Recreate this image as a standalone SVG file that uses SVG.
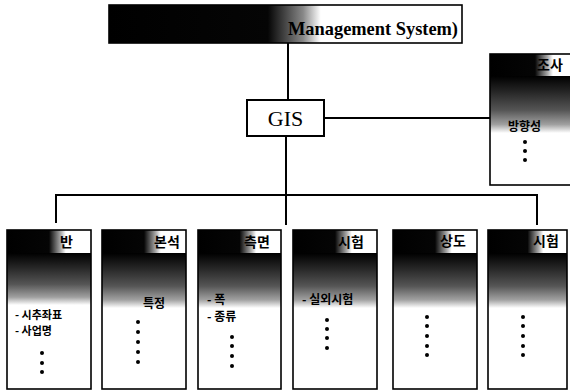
<svg xmlns="http://www.w3.org/2000/svg" width="570" height="392" viewBox="0 0 570 392">
<defs>
<linearGradient id="hdr" x1="0" y1="0" x2="1" y2="0">
<stop offset="0" stop-color="#000"/><stop offset="0.5" stop-color="#050505"/><stop offset="0.64" stop-color="#aaa"/><stop offset="0.7" stop-color="#fff"/><stop offset="1" stop-color="#fff"/>
</linearGradient>
<linearGradient id="topg" x1="0" y1="0" x2="1" y2="0">
<stop offset="0" stop-color="#000"/><stop offset="0.45" stop-color="#050505"/><stop offset="0.55" stop-color="#888"/><stop offset="0.6" stop-color="#fff"/><stop offset="1" stop-color="#fff"/>
</linearGradient>
<linearGradient id="body" x1="0" y1="0" x2="0" y2="1">
<stop offset="0" stop-color="#000"/><stop offset="0.25" stop-color="#222"/><stop offset="0.6" stop-color="#555"/><stop offset="0.85" stop-color="#a0a0a0"/><stop offset="1" stop-color="#fff"/>
</linearGradient>
</defs>
<style>
.box{fill:none;stroke:#000;stroke-width:1.6}
.ln{stroke:#000;stroke-width:2;fill:none}
.kr{font-family:"Noto Sans CJK KR","Noto Sans",sans-serif;font-weight:700;font-size:12px;fill:#000}
.sm{font-size:11px}
.hd{font-family:"Noto Sans CJK KR","Noto Sans",sans-serif;font-weight:700;font-size:14px;fill:#000}
.dot{fill:#000}
</style>
<g id="connectors">
<line class="ln" x1="288" y1="43" x2="288" y2="100"/>
<line class="ln" x1="324" y1="118" x2="490" y2="118"/>
<line class="ln" x1="286" y1="136" x2="286" y2="225"/>
<polyline class="ln" points="56,223 56,195 537,195 537,225"/>
</g>
<g id="top">
<rect x="109" y="5" width="353" height="38" fill="url(#topg)"/>
<rect class="box" x="109" y="5" width="353" height="38"/>
<text x="458" y="35" text-anchor="end" font-family="Liberation Serif,serif" font-weight="700" font-size="19" textLength="170" lengthAdjust="spacingAndGlyphs">Management System)</text>
</g>
<g id="gis">
<rect x="247" y="100" width="77" height="36" fill="#fff" stroke="#000" stroke-width="2"/>
<text x="285.5" y="126" text-anchor="middle" font-family="Liberation Serif,serif" font-size="22">GIS</text>
</g>
<g id="right">
<rect x="490" y="54" width="90" height="22" fill="url(#hdr)"/>
<rect x="490" y="76" width="90" height="57" fill="url(#body)"/>
<rect class="box" x="490" y="54" width="90" height="131"/>
<text class="hd" x="537" y="70">조사</text>
<text class="kr" x="508" y="131" font-size="13">방향성</text>
<circle class="dot" cx="525" cy="142" r="2"/><circle class="dot" cx="525" cy="151" r="2"/><circle class="dot" cx="525" cy="160" r="2"/>
</g>
<g id="b1">
<rect x="7" y="230" width="84" height="23" fill="url(#hdr)"/>
<rect x="7" y="253" width="84" height="52" fill="url(#body)"/>
<rect class="box" x="7" y="230" width="84" height="159"/>
<text class="hd" x="60" y="247">반</text>
<text class="kr sm" x="15" y="319">- 시추좌표</text>
<text class="kr sm" x="15" y="335">- 사업명</text>
<circle class="dot" cx="42" cy="353" r="2"/><circle class="dot" cx="42" cy="363" r="2"/><circle class="dot" cx="42" cy="372" r="2"/>
</g>
<g id="b2">
<rect x="102" y="230" width="84" height="23" fill="url(#hdr)"/>
<rect x="102" y="253" width="84" height="55" fill="url(#body)"/>
<rect class="box" x="102" y="230" width="84" height="159"/>
<text class="hd" x="154" y="247">본석</text>
<text class="kr" x="143" y="308">특정</text>
<circle class="dot" cx="138" cy="322" r="2"/><circle class="dot" cx="138" cy="332" r="2"/><circle class="dot" cx="138" cy="342" r="2"/><circle class="dot" cx="138" cy="352" r="2"/><circle class="dot" cx="138" cy="362" r="2"/>
</g>
<g id="b3">
<rect x="198" y="230" width="83" height="23" fill="url(#hdr)"/>
<rect x="198" y="253" width="83" height="55" fill="url(#body)"/>
<rect class="box" x="198" y="230" width="83" height="159"/>
<text class="hd" x="244" y="247">측면</text>
<text class="kr" x="207" y="304">- 폭</text>
<text class="kr" x="207" y="321">- 종류</text>
<circle class="dot" cx="232" cy="337" r="2"/><circle class="dot" cx="232" cy="346" r="2"/><circle class="dot" cx="232" cy="356" r="2"/><circle class="dot" cx="232" cy="366" r="2"/>
</g>
<g id="b4">
<rect x="293" y="230" width="84" height="23" fill="url(#hdr)"/>
<rect x="293" y="253" width="84" height="55" fill="url(#body)"/>
<rect class="box" x="293" y="230" width="84" height="159"/>
<text class="hd" x="338" y="247">시험</text>
<text class="kr" x="302" y="304">- 실외시험</text>
<circle class="dot" cx="327" cy="320" r="2"/><circle class="dot" cx="327" cy="329" r="2"/><circle class="dot" cx="327" cy="338" r="2"/><circle class="dot" cx="327" cy="348" r="2"/>
</g>
<g id="b5">
<rect x="393" y="230" width="84" height="23" fill="url(#hdr)"/>
<rect x="393" y="253" width="84" height="55" fill="url(#body)"/>
<rect class="box" x="393" y="230" width="84" height="159"/>
<text class="hd" x="440" y="246">상도</text>
<circle class="dot" cx="427" cy="317" r="2"/><circle class="dot" cx="427" cy="326" r="2"/><circle class="dot" cx="427" cy="336" r="2"/><circle class="dot" cx="427" cy="346" r="2"/><circle class="dot" cx="427" cy="355" r="2"/>
</g>
<g id="b6">
<rect x="488" y="230" width="79" height="23" fill="url(#hdr)"/>
<rect x="488" y="253" width="79" height="55" fill="url(#body)"/>
<rect class="box" x="488" y="230" width="79" height="159"/>
<text class="hd" x="533" y="246">시험</text>
<circle class="dot" cx="523" cy="317" r="2"/><circle class="dot" cx="523" cy="326" r="2"/><circle class="dot" cx="523" cy="336" r="2"/><circle class="dot" cx="523" cy="346" r="2"/><circle class="dot" cx="523" cy="355" r="2"/>
</g>
</svg>
